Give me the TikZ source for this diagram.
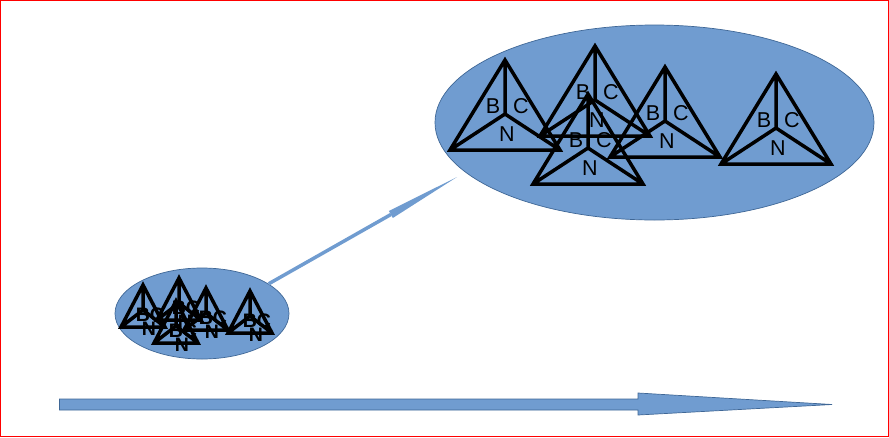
\documentclass[tikz,border=0pt]{standalone}
\usepackage{fontspec}
\setmainfont{Liberation Sans}
\usepackage{tikz}
\usetikzlibrary{shapes.geometric,arrows.meta}

\definecolor{blobfill}{HTML}{709CD0}
\definecolor{blobline}{HTML}{3F6796}
\tikzset{
    blob/.style={ellipse,draw=blobline,fill=blobfill,line width=0.7pt,inner sep=0pt},
    triline/.style={draw=black,line width=3.5pt,line join=miter},
    biglabel/.style={font=\fontsize{21.5}{22}\selectfont,text=black,inner sep=0pt},
    smalllabel/.style={font=\bfseries\fontsize{19.5}{20}\selectfont,text=black,inner sep=0pt},
    pics/bigtri/.style={code={
        \draw[triline] (0,0) -- (-55,90) -- (55,90) -- cycle (0,0) -- (0,54) (-55,90) -- (0,54) -- (55,90);
        \node[biglabel] (-b) at (-12,46) {B};
        \node[biglabel] (-c) at (16,46) {C};
        \node[biglabel] (-n) at (2,74) {N};
    }},
    pics/smalltri/.style={code={
        \draw[triline] (0,0) -- (-22,42) -- (22,42) -- cycle (0,0) -- (0,25) (-22,42) -- (0,25) -- (22,42);
        \node[smalllabel] (-b) at (0,30) {B};
        \node[smalllabel] (-c) at (14,30) {C};
        \node[smalllabel] (-n) at (6,44) {N};
    }},
}

\begin{document}
\begin{tikzpicture}[x=1pt,y=-1pt]
    \useasboundingbox (0,0) rectangle (889,437);
    \draw[red,line width=1pt] (0.5,0.5) rectangle (888.5,436.5);

    \node[blob,minimum width=439pt,minimum height=195pt] (large) at (654.5,122.5) {};
    \node[blob,minimum width=174pt,minimum height=91pt] (little) at (202,313.5) {};

    \pic (t1) at (505,60) {bigtri};
    \pic (t2) at (595,46) {bigtri};
    \pic (t3) at (665,67) {bigtri};
    \pic (t4) at (776,74) {bigtri};
    \pic (t5) at (588,94) {bigtri};

    \pic (s1) at (143,285) {smalltri};
    \pic (s2) at (179,278) {smalltri};
    \pic (s3) at (206,288) {smalltri};
    \pic (s4) at (250,291) {smalltri};
    \pic (s5) at (176,301) {smalltri};

    \coordinate (tip) at (457,177);
    \draw[blobfill,line width=3.5pt,-{Triangle[length=76pt,width=8pt,line width=0pt]}] (little.24) -- (tip);

    % time axis
    \draw[draw=blobline,fill=blobfill,line width=0.7pt] (59.5,399) -- (638,399) -- (638,393) -- (832,404.5)
        -- (638,415) -- (638,410) -- (59.5,410) -- cycle;
\end{tikzpicture}
\end{document}
